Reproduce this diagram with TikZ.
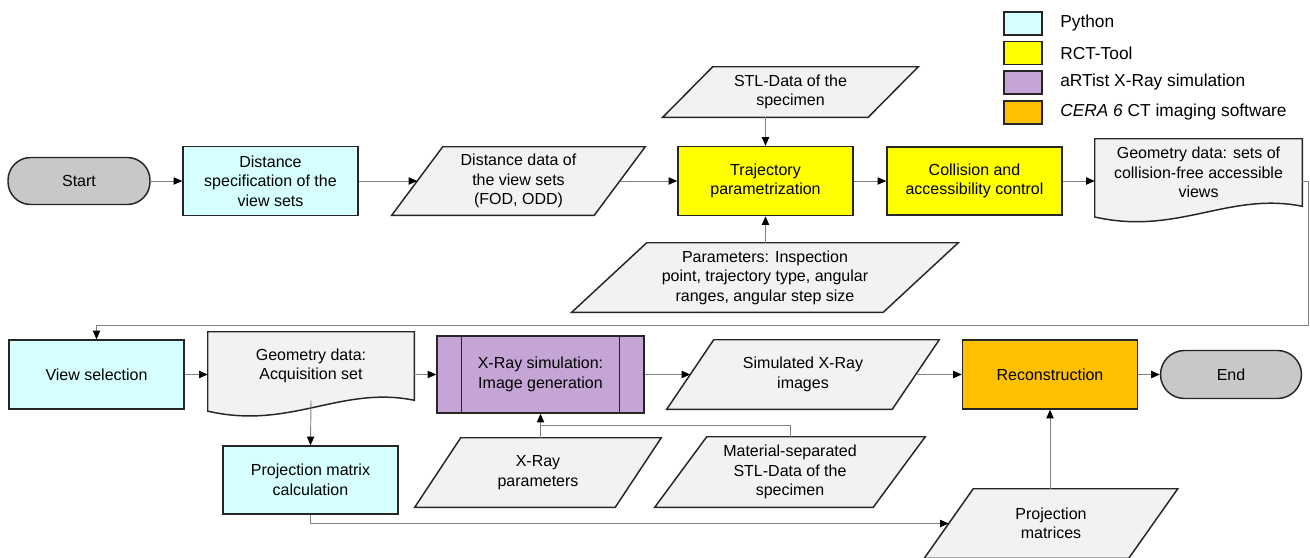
\documentclass[tikz,border=0pt]{standalone}
\usepackage{fontspec}
\setmainfont{Liberation Sans}
\usetikzlibrary{arrows.meta,calc}
\pgfdeclarelayer{background}
\pgfsetlayers{background,main}
\definecolor{py}{HTML}{D6FFFF}
\definecolor{rct}{HTML}{FFFF00}
\definecolor{art}{HTML}{C4A5D6}
\definecolor{cera}{HTML}{FFC000}
\definecolor{termcol}{HTML}{C8C8C8}
\definecolor{datacol}{HTML}{F2F2F2}
\definecolor{bordercol}{HTML}{262626}
\definecolor{conncol}{HTML}{808080}
\newcommand\pxu{0.75pt}
\newcommand\paraShape[7]{%
  \node[txt, minimum width={(#4-#6)*\pxu}, minimum height={#5*\pxu}] (#1) at (#2,#3) {#7};
  \begin{pgfonlayer}{background}
    \draw[datashape] ($(#1.south west)+(-#6/2,0)$) -- ($(#1.north west)+(#6/2,0)$) -- ($(#1.north east)+(#6/2,0)$) -- ($(#1.south east)+(-#6/2,0)$) -- cycle;
  \end{pgfonlayer}}
\newcommand\docShape[6]{%
  \node[txt, minimum width={#4*\pxu}, minimum height={#5*\pxu}] (#1) at (#2,#3) {#6};
  \begin{pgfonlayer}{background}
    \draw[datashape] (#1.north west) -- (#1.north east) -- (#1.south east) .. controls ($(#1.south west)+(0.646*#4,-0.22*#5)$) and ($(#1.south west)+(0.4*#4,0.44*#5)$) .. ($(#1.south west)+(0,0.16*#5)$) -- cycle;
  \end{pgfonlayer}}
\begin{document}
\begin{tikzpicture}[x=0.75pt,y=-0.75pt,
  txt/.style={font=\fontsize{12}{14.6}\selectfont, align=center, inner sep=0pt},
  border/.style={draw=bordercol, line width=1.1pt},
  datashape/.style={border, fill=datacol, line join=miter},
  proc/.style={txt, border, minimum width=175*\pxu, minimum height=69*\pxu},
  termnode/.style={txt, border, fill=termcol},
  legbox/.style={border, minimum width=38*\pxu, minimum height=23*\pxu, inner sep=0pt},
  legtxt/.style={font=\fontsize{13}{15}\selectfont, inner sep=0pt, anchor=west},
  conn/.style={draw=conncol, line width=0.7pt},
  arr/.style={conn, -{Triangle[length=6.5pt,width=5.5pt,color=black]}}]
\useasboundingbox (0,0) rectangle (1310,557);
\begin{pgfonlayer}{background}
  \fill[white] (0,0) rectangle (1310,557);
\end{pgfonlayer}

% legend
\node[legbox, fill=py] (l1) at (1023,23.5) {};
\node[legtxt] (t1) at (1060,23.5) {Python};
\node[legbox, fill=rct] (l2) at (1023,53) {};
\node[legtxt] (t2) at (1060,53) {RCT-Tool};
\node[legbox, fill=art] (l3) at (1023,82.5) {};
\node[legtxt] (t3) at (1060,82.5) {aRTist X-Ray simulation};
\node[legbox, fill=cera] (l4) at (1023,112.5) {};
\node[legtxt] (t4) at (1060,112.5) {\textit{CERA 6} CT imaging software};

% top row
\node[termnode, minimum width=142*\pxu, minimum height=47*\pxu, rounded corners=17pt] (start) at (79,181) {Start};
\node[proc, fill=py] (dist) at (270.5,181) {Distance\\specification of the\\view sets};
\paraShape{ddata}{518.5}{181}{253}{68}{51}{Distance data of\\the view sets\\(FOD, ODD)}
\node[proc, fill=rct] (traj) at (765.5,181) {Trajectory\\parametrization};
\paraShape{stl}{790.5}{92}{255}{50}{50}{STL-Data of the\\specimen}
\paraShape{params}{765}{277.5}{386}{69}{75}{Parameters: Inspection\\point, trajectory type, angular\\ranges, angular step size}
\node[proc, fill=rct, minimum height=68*\pxu] (coll) at (974.5,181) {Collision and\\accessibility control};
\docShape{geo}{1198.5}{172.5}{207}{67}{Geometry data: sets of\\collision-free accessible\\views}

% bottom rows
\node[proc, fill=py] (vsel) at (96.5,374.5) {View selection};
\docShape{acq}{311}{366}{206}{68}{Geometry data:\\Acquisition set}
\node[proc, fill=art, minimum width=207*\pxu, minimum height=77*\pxu] (xsim) at (540.5,374.5) {X-Ray simulation:\\Image generation};
\draw[border] ($(xsim.north west)+(25,0)$) -- ($(xsim.south west)+(25,0)$);
\draw[border] ($(xsim.north east)+(-25,0)$) -- ($(xsim.south east)+(-25,0)$);
\paraShape{sim}{803}{374.5}{272}{69}{47}{Simulated X-Ray\\images}
\node[proc, fill=cera] (recon) at (1050,374.5) {Reconstruction};
\node[termnode, minimum width=141*\pxu, minimum height=48*\pxu, rounded corners=18pt] (end) at (1231,374.5) {End};
\node[proc, fill=py, minimum height=68*\pxu] (pcalc) at (310.5,480) {Projection matrix\\calculation};
\paraShape{xpar}{538}{472.5}{246}{69}{46}{X-Ray\\parameters}
\paraShape{mat}{790}{472}{270}{70}{52}{Material-separated\\STL-Data of the\\specimen}
\paraShape{pmat}{1051}{523.5}{253}{69}{49}{Projection\\matrices}

% connectors
\coordinate (loopR) at (1308,325);
\draw[arr] (start.east) -- (dist.west);
\draw[arr] (dist.east) -- (ddata.west);
\draw[arr] (ddata.east) -- (traj.west);
\draw[arr] (traj.north |- stl.south) -- (traj.north);
\draw[arr] (traj.south |- params.north) -- (traj.south);
\draw[arr] (traj.east) -- (coll.west);
\draw[arr] (coll.east) -- (coll.east -| geo.west);
\draw[arr] (coll.east -| geo.east) -| (loopR) -| (vsel.north);
\draw[arr] (vsel.east) -- (vsel.east -| acq.west);
\draw[arr] (xsim.west -| acq.east) -- (xsim.west);
\draw[arr] (acq.south) -- (pcalc.north);
\draw[arr] (xsim.east) -- (sim.west);
\draw[arr] (sim.east) -- (recon.west);
\draw[arr] (recon.east) -- (end.west);
\draw[arr] (xsim.south |- xpar.north) -- (xsim.south);
\draw[conn] (mat.north) |- ($(xsim.south)!0.5!(xsim.south |- xpar.north)$);
\draw[arr] (pcalc.south) |- (pmat.west);
\draw[arr] (recon.south |- pmat.north) -- (recon.south);
\end{tikzpicture}
\end{document}
